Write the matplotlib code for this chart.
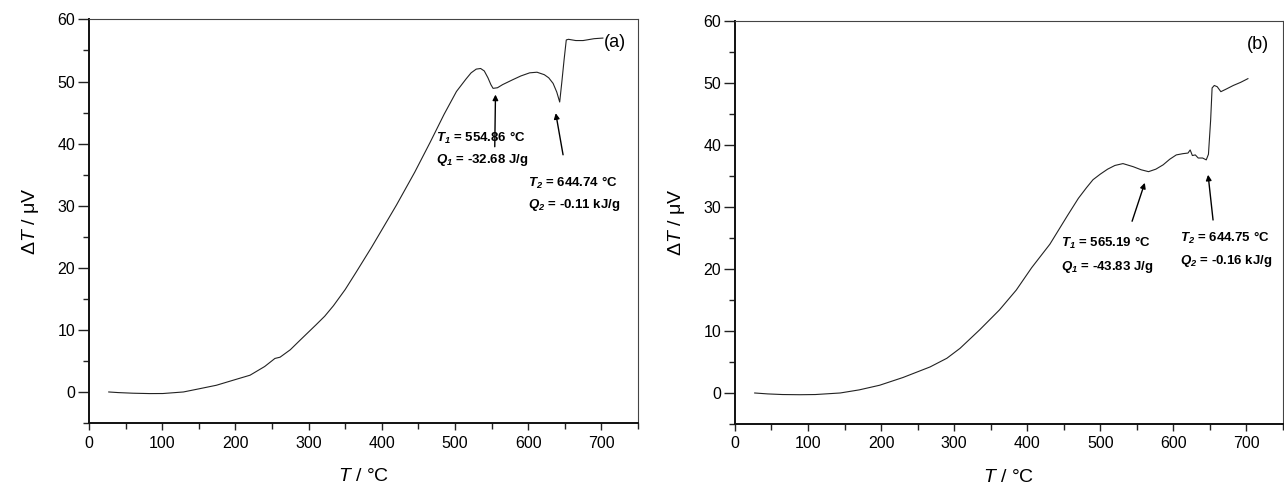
import matplotlib
matplotlib.use("Agg")
import matplotlib.pyplot as plt
from matplotlib.ticker import MultipleLocator

plt.rcParams['font.family'] = ['Liberation Sans', 'DejaVu Sans']
plt.rcParams['mathtext.fontset'] = 'custom'
plt.rcParams['mathtext.rm'] = 'Liberation Sans'
plt.rcParams['mathtext.it'] = 'Liberation Sans:italic'
plt.rcParams['mathtext.bf'] = 'Liberation Sans:bold'
plt.rcParams['mathtext.bfit'] = 'Liberation Sans:italic:bold'

# Panel (a) DTA curve
T_a = [27, 40, 60, 83, 101, 129, 150, 174, 200, 220, 240, 254, 261, 275, 288, 310,
       322, 334, 350, 365, 386, 400, 420, 445, 466, 485, 502, 515, 522, 529, 535, 540,
       545, 549, 552, 558, 565, 579, 590, 602, 612, 622, 628, 634, 639, 643, 646, 649,
       652, 655, 665, 675, 690, 702]
dT_a = [0.0, -0.1, -0.2, -0.26, -0.25, 0.0, 0.5, 1.08, 2.0, 2.7, 4.1, 5.4, 5.6, 6.8,
        8.3, 10.8, 12.2, 13.9, 16.5, 19.3, 23.3, 26.1, 30.1, 35.4, 40.2, 44.7, 48.4,
        50.4, 51.4, 52.0, 52.1, 51.7, 50.6, 49.5, 48.9, 49.0, 49.5, 50.3, 50.9, 51.4,
        51.5, 51.1, 50.6, 49.7, 48.3, 46.7, 50.0, 53.5, 56.7, 56.8, 56.6, 56.6, 56.9,
        57.0]

# Panel (b) DTA curve
T_b = [27, 45, 65, 89, 110, 144, 170, 198, 230, 267, 290, 308, 335, 362, 385, 406,
       431, 455, 470, 481, 490, 500, 510, 520, 531, 545, 556, 566, 576, 586, 595, 604,
       613, 620, 623, 626, 630, 634, 640, 645, 648, 651, 653, 656, 660, 665, 672, 682,
       692, 702]
dT_b = [0.0, -0.15, -0.25, -0.28, -0.25, 0.0, 0.5, 1.25, 2.5, 4.2, 5.6, 7.2, 10.2,
        13.4, 16.6, 20.2, 24.0, 28.6, 31.4, 33.1, 34.4, 35.3, 36.1, 36.7, 37.0, 36.5,
        36.0, 35.7, 36.1, 36.8, 37.7, 38.4, 38.6, 38.7, 39.2, 38.3, 38.4, 37.9, 37.9,
        37.6, 38.5, 44.0, 49.2, 49.6, 49.4, 48.6, 49.0, 49.6, 50.1, 50.7]

labels_a = [r'$\mathbfit{T}_{\mathbfit{1}}$ = 554.86 °C', r'$\mathbfit{Q}_{\mathbfit{1}}$ = -32.68 J/g',
            r'$\mathbfit{T}_{\mathbfit{2}}$ = 644.74 °C', r'$\mathbfit{Q}_{\mathbfit{2}}$ = -0.11 kJ/g']
labels_b = [r'$\mathbfit{T}_{\mathbfit{1}}$ = 565.19 °C', r'$\mathbfit{Q}_{\mathbfit{1}}$ = -43.83 J/g',
            r'$\mathbfit{T}_{\mathbfit{2}}$ = 644.75 °C', r'$\mathbfit{Q}_{\mathbfit{2}}$ = -0.16 kJ/g']

fig = plt.figure(figsize=(12.84, 4.86), dpi=100)
ax_a = fig.add_axes([0.0693, 0.1296, 0.4276, 0.8304])
ax_b = fig.add_axes([0.5724, 0.1276, 0.4268, 0.8292])


def style(ax):
    ax.set_xlim(0, 750)
    ax.set_ylim(-5, 60)
    ax.xaxis.set_major_locator(MultipleLocator(100))
    ax.xaxis.set_minor_locator(MultipleLocator(50))
    ax.yaxis.set_major_locator(MultipleLocator(10))
    ax.yaxis.set_minor_locator(MultipleLocator(5))
    ax.tick_params(axis='both', which='both', direction='out', top=False, right=False,
                   labelsize=11.5, width=1.0, color='#222')
    ax.tick_params(axis='y', which='major', length=8, pad=2)
    ax.tick_params(axis='y', which='minor', length=4)
    ax.tick_params(axis='x', which='major', length=5, pad=4)
    ax.tick_params(axis='x', which='minor', length=4)
    for s in ['left', 'bottom']:
        ax.spines[s].set_linewidth(1.4)
        ax.spines[s].set_color('#111')
    for s in ['top', 'right']:
        ax.spines[s].set_linewidth(0.8)
        ax.spines[s].set_color('#444')
    ax.set_xlabel(r'$\mathit{T}$ / °C', fontsize=14)
    ax.set_ylabel(r'Δ$\mathit{T}$ / μV', fontsize=14)
    ax.xaxis.set_label_coords(0.5, -0.112)
    ax.yaxis.set_label_coords(-0.088, 0.5)


for ax in (ax_a, ax_b):
    style(ax)

ax_a.plot(T_a, dT_a, color='#222', lw=0.8)
ax_b.plot(T_b, dT_b, color='#222', lw=0.8)

arrow = dict(arrowstyle='-|>', color='k', lw=1.0, mutation_scale=8, shrinkA=0, shrinkB=0)
tkw = dict(fontsize=9.5, fontweight='bold', ha='left', va='center')

# panel (a) annotations
ax_a.annotate('', xy=(555.3, 47.9), xytext=(554.3, 39.5), arrowprops=arrow)
ax_a.annotate('', xy=(637.6, 44.9), xytext=(647.6, 38.2), arrowprops=arrow)
ax_a.text(474, 40.9, labels_a[0], **tkw)
ax_a.text(474, 37.3, labels_a[1], **tkw)
ax_a.text(600, 33.7, labels_a[2], **tkw)
ax_a.text(600, 30.1, labels_a[3], **tkw)
ax_a.text(704, 56.3, '(a)', fontsize=13, ha='left', va='center')

# panel (b) annotations
ax_b.annotate('', xy=(560.9, 33.9), xytext=(543.5, 27.7), arrowprops=arrow)
ax_b.annotate('', xy=(647.5, 35.2), xytext=(654.3, 27.9), arrowprops=arrow)
ax_b.text(446, 24.2, labels_b[0], **tkw)
ax_b.text(446, 20.4, labels_b[1], **tkw)
ax_b.text(609, 25.0, labels_b[2], **tkw)
ax_b.text(609, 21.3, labels_b[3], **tkw)
ax_b.text(700, 56.2, '(b)', fontsize=13, ha='left', va='center')

fig.savefig('out.png', dpi=100)
